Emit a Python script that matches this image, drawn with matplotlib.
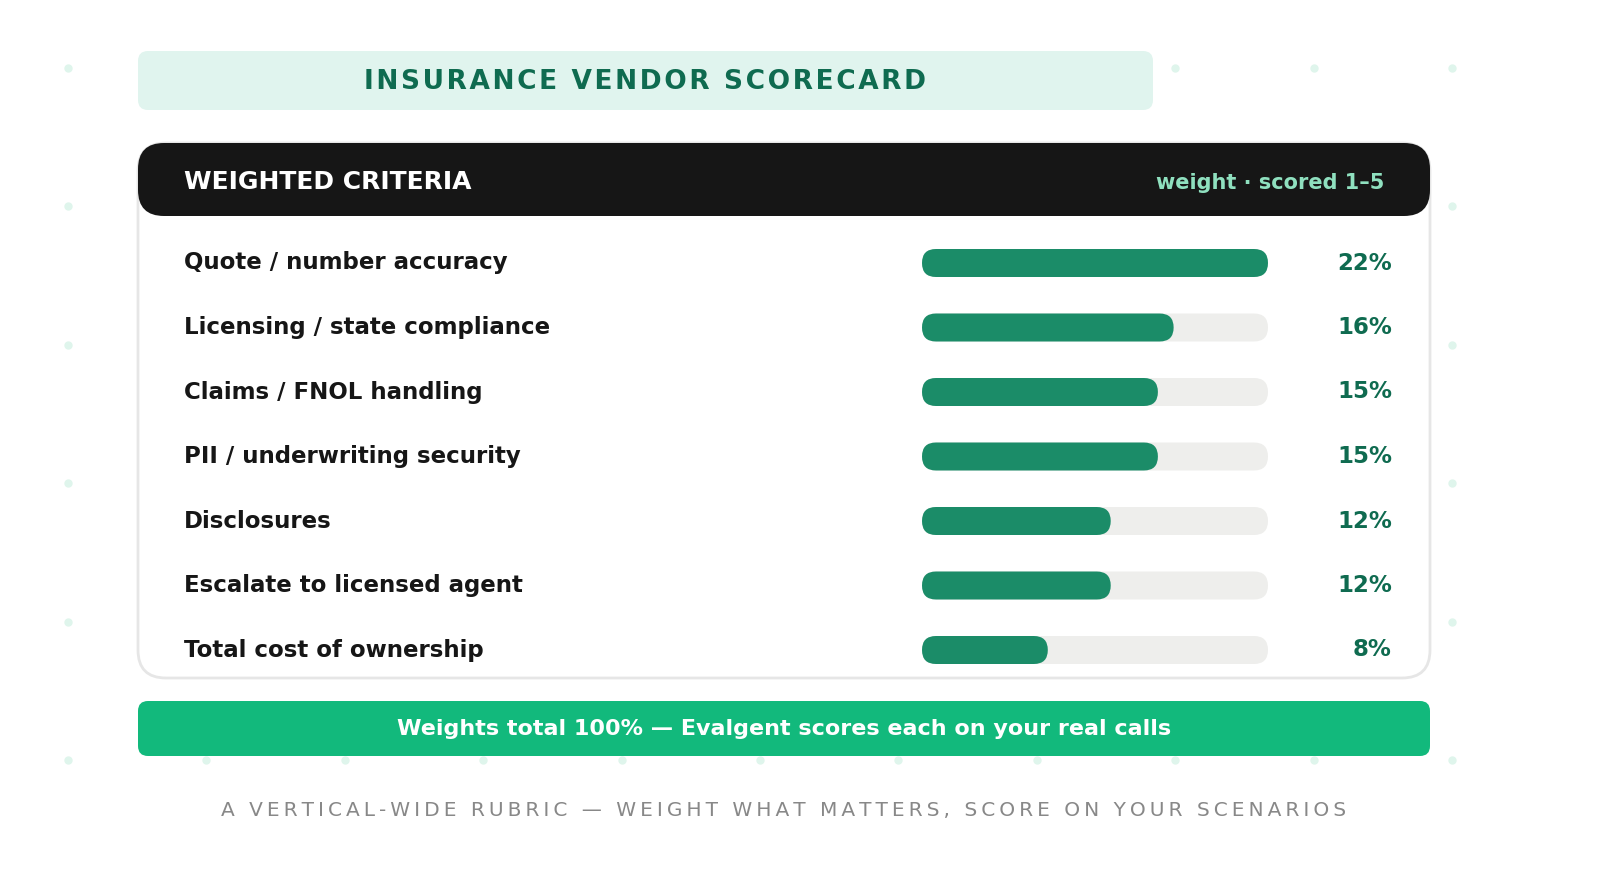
import matplotlib
matplotlib.use("Agg")
import matplotlib.pyplot as plt
from matplotlib.patches import FancyBboxPatch

plt.rcParams["font.family"] = ["DejaVu Sans"]

criteria = [
    "Quote / number accuracy",
    "Licensing / state compliance",
    "Claims / FNOL handling",
    "PII / underwriting security",
    "Disclosures",
    "Escalate to licensed agent",
    "Total cost of ownership",
]
weights = [22, 16, 15, 15, 12, 12, 8]
max_weight = 22

title = "INSURANCE VENDOR SCORECARD"
header = "WEIGHTED CRITERIA"
header_note = "weight · scored 1–5"
footer = "Weights total 100% — Evalgent scores each on your real calls"
subtitle = "A VERTICAL-WIDE RUBRIC — WEIGHT WHAT MATTERS, SCORE ON YOUR SCENARIOS"

W, H = 1600, 894
fig = plt.figure(figsize=(16, 8.94), dpi=100)
ax = fig.add_axes([0, 0, 1, 1])
ax.set_xlim(0, W)
ax.set_ylim(H, 0)
ax.axis("off")


def rbox(x0, y0, x1, y1, r, fc, ec="none", lw=0, z=1):
    ax.add_patch(FancyBboxPatch((x0, y0), x1 - x0, y1 - y0,
                                boxstyle=f"round,pad=0,rounding_size={r}",
                                fc=fc, ec=ec, lw=lw, zorder=z))


def spaced(s, sep):
    return sep.join(s)


# faint background dots
for gx in range(11):
    for gy in range(6):
        ax.plot(68 + gx * 138.4, 68 + gy * 138.4, "o", ms=5,
                color="#dff5ec", zorder=0)

# title pill
rbox(138, 51, 1153, 110, 10, "#e0f4ee", z=2)
ax.text(645, 82, spaced(title, "\u200a"), ha="center", va="center",
        fontsize=19, fontweight="bold", color="#0f6b50", zorder=3)

# card
rbox(138, 143, 1430, 678, 28, "white", ec="#e6e6e6", lw=2, z=2)
rbox(138, 143, 1430, 216, 26, "#161616", z=3)
ax.text(184, 182, header, ha="left", va="center", fontsize=18,
        fontweight="bold", color="white", zorder=4)
ax.text(1384, 183, header_note, ha="right", va="center", fontsize=15,
        fontweight="bold", color="#8fe0bf", zorder=4)

track_x0, track_x1 = 922, 1268
bar_h = 28
for i, (name, w) in enumerate(zip(criteria, weights)):
    yc = 263 + i * 64.5
    ax.text(184, yc, name, ha="left", va="center", fontsize=16.5,
            fontweight="bold", color="#161616", zorder=4)
    rbox(track_x0, yc - bar_h / 2, track_x1, yc + bar_h / 2, 14,
         "#eeeeec", z=3)
    xe = track_x0 + (track_x1 - track_x0) * w / max_weight
    rbox(track_x0, yc - bar_h / 2, xe, yc + bar_h / 2, 14, "#1b8c68", z=4)
    ax.text(1392, yc, f"{w}%", ha="right", va="center", fontsize=16.5,
            fontweight="bold", color="#0f6b50", zorder=4)

# footer band
rbox(138, 701, 1430, 756, 10, "#12b97c", z=2)
ax.text(784, 729, footer, ha="center", va="center", fontsize=16,
        fontweight="bold", color="white", zorder=3)

ax.text(784, 811, spaced(subtitle, "\u2009"), ha="center", va="center",
        fontsize=14.5, color="#888888", zorder=3)

fig.savefig("out.png", dpi=100, facecolor="white")
